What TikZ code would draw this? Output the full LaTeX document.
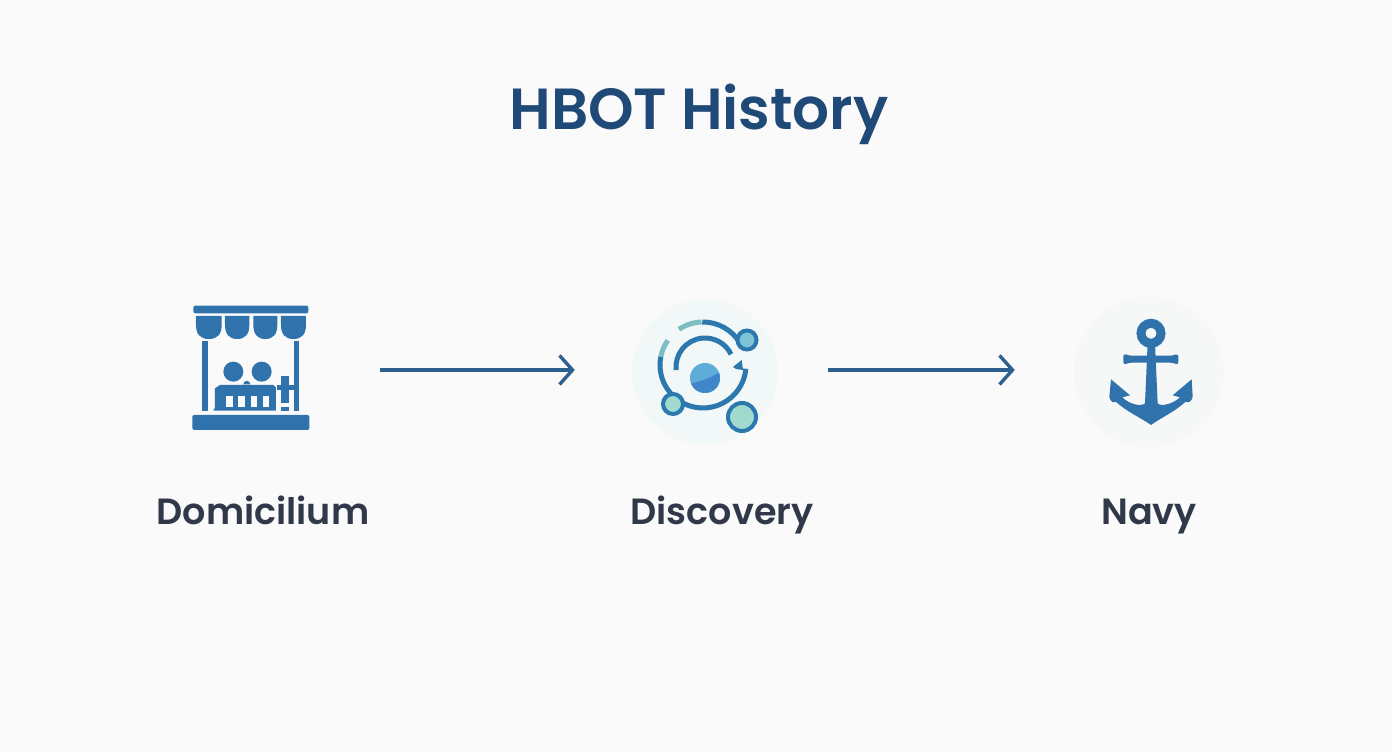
\documentclass[tikz,border=0pt]{standalone}
\usepackage{fontspec}
\setmainfont{Poppins}[BoldFont={Poppins SemiBold}]
\usetikzlibrary{arrows.meta}
\definecolor{pagebg}{HTML}{FAFAFA}
\definecolor{titleblue}{HTML}{1F4A77}
\definecolor{labelgray}{HTML}{30384A}
\definecolor{iconblue}{HTML}{2F72AC}
\definecolor{flowblue}{HTML}{2D5F8F}
\definecolor{ringblue}{HTML}{2A78AE}
\definecolor{ringlight}{HTML}{7DBDC4}
\definecolor{halocyan}{HTML}{F2F7F7}
\definecolor{halogray}{HTML}{F6F7F7}
\definecolor{beadsky}{HTML}{7EC4D8}
\definecolor{beadmint}{HTML}{A2D9CF}
\definecolor{corelight}{HTML}{5DADD8}
\definecolor{coredark}{HTML}{3F86CB}
\tikzset{
  flow/.style={draw=flowblue,line width=3.2pt,-{Straight Barb[length=13pt,width=29pt,line width=3.4pt]}},
  caption/.style={font=\bfseries\fontsize{36.5}{44}\selectfont,text=labelgray,inner sep=0pt,anchor=base},
  iconhalo/.style={circle,inner sep=0pt,minimum size=146pt},
  orbit/.style={draw=ringblue,line width=5pt},
  orbitlight/.style={draw=ringlight,line width=5pt},
  bead/.style={draw=ringblue,line width=4pt},
}
\begin{document}
\begin{tikzpicture}[x=1pt,y=1pt]
	\fill[pagebg] (0,0) rectangle (1392,752);
	\node[inner sep=0pt,anchor=base,font=\bfseries\fontsize{58}{70}\selectfont,text=titleblue] (title) at (699,622) {HBOT History};
	% icon nodes
	\node[inner sep=0pt,minimum width=117pt,minimum height=124pt] (domicon) at (251,382) {};
	\node[iconhalo,fill=halocyan] (discicon) at (705,380) {};
	\node[iconhalo,minimum size=150pt,fill=halogray] (navyicon) at (1149,380) {};
	% labels
	\node[caption] (domlabel) at (263,227) {Domicilium};
	\node[caption] (disclabel) at (722,227) {Discovery};
	\node[caption] (navylabel) at (1149,227) {Navy};
	% arrows
	\draw[flow,shorten <=70pt,shorten >=57pt] (domicon.east) -- (domicon.east -| discicon.west);
	\draw[flow,shorten <=50pt,shorten >=59pt] (discicon.east |- domicon.east) -- (navyicon.west |- domicon.east);
	% shop, in 3x zoom units
	\begin{scope}[shift={(170,462)},x=0.3333pt,y=-0.3333pt,fill=iconblue]
		\fill[rounded corners=2pt] (70,47) rectangle (415,70);
		\foreach \l/\r in {78/155,165/238,250/322,333/408}
			\fill (\l,78) -- (\r,78) -- (\r,105) .. controls (\r,132) and ({\r-12},147) .. ({(\l+\r)/2},147) .. controls ({\l+12},147) and (\l,132) .. (\l,105) -- cycle;
		\fill (97,152) rectangle (114,362);
		\fill (372,152) rectangle (388,362);
		\fill (190,245) circle (10pt);
		\fill (275,245) circle (10pt);
		\fill (220,283) arc[start angle=180,end angle=0,radius=3.5pt] -- cycle;
		\fill (150,285) -- (135,295) -- (135,352) -- (130,362) -- (320,362) -- (320,295) -- (310,285) -- cycle;
		\foreach \l in {168,205,242,278}
			\fill[pagebg] (\l,318) rectangle +(20,34);
		\fill[pagebg] (318,278) rectangle (372,362);
		\fill (332,258) rectangle (356,340);
		\fill (320,285) rectangle (372,300);
		\fill (332,352) rectangle (356,362);
		\fill[rounded corners=2pt] (67,375) rectangle (418,420);
	\end{scope}
	% discovery
	\draw[orbit] (703,387) ++(30:43) arc[start angle=30,end angle=91,radius=43];
	\draw[orbitlight] (703,387) ++(92:43) arc[start angle=92,end angle=124,radius=43];
	\draw[orbitlight] (703,387) ++(145:43) arc[start angle=145,end angle=169,radius=43];
	\draw[orbit] (703,387) ++(169:43) arc[start angle=169,end angle=355,radius=43];
	\draw[orbit] (705,385) ++(186:29) arc[start angle=186,end angle=26,radius=29];
	\fill[ringblue] (733,385) -- (741.7,392) -- (743,382) -- (736,383) -- cycle;
	\fill[corelight] (705,374) circle (15pt);
	\begin{scope}
		\clip (705,374) circle (15pt);
		\fill[coredark] (688,358) rectangle (722,368) (688,368) .. controls (700,370) and (712,374) .. (722,382) -- (722,368) -- cycle;
	\end{scope}
	\filldraw[bead,fill=beadsky] (747,412) circle (9.5pt);
	\filldraw[bead,fill=beadmint] (673,348) circle (10pt);
	\filldraw[bead,fill=beadmint] (742,335) circle (14pt);
	% anchor, in 3x zoom units
	\begin{scope}[shift={(1065,462)},x=0.3333pt,y=-0.3333pt]
		\draw[iconblue,line width=9pt] (258,130) circle (10pt);
		\fill[iconblue,rounded corners=3pt] (175,190) -- (192,197) -- (324,197) -- (340,190) -- (340,225) -- (324,218) -- (192,218) -- (175,225) -- cycle;
		\fill[iconblue] (248,160) -- (270,160) -- (278,340) .. controls (285,350) and (320,345) .. (345,322) -- (323,316) -- (380,268) -- (383,320) .. controls (380,335) and (370,340) .. (362,335) .. controls (330,365) and (285,385) .. (258,405) .. controls (230,385) and (185,365) .. (152,335) .. controls (145,340) and (135,335) .. (133,320) -- (138,268) -- (195,316) -- (172,322) .. controls (195,345) and (230,350) .. (240,340) -- cycle;
	\end{scope}
	\useasboundingbox (0,0) rectangle (1392,752);
\end{tikzpicture}
\end{document}
